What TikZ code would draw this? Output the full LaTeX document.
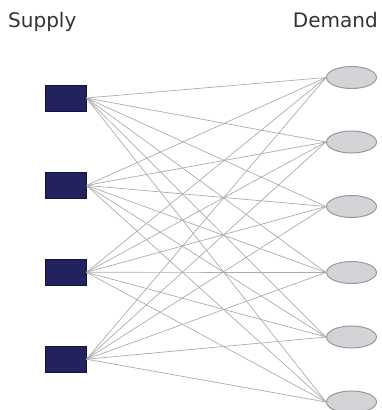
\documentclass[tikz,border=0pt]{standalone}
\usepackage{fontspec}
\setmainfont{DejaVu Sans}
\usepackage{tikz}
\usetikzlibrary{positioning,shapes.geometric}

\definecolor{navy}{HTML}{22225E}
\definecolor{demgray}{HTML}{D4D3D8}

\begin{document}
\begin{tikzpicture}[
	x=1pt, y=-1pt,
	supply/.style={rectangle, draw=navy!60!black, line width=0.9pt, fill=navy,
		minimum width=41pt, minimum height=26pt, inner sep=0pt},
	demand/.style={ellipse, draw=gray!80, line width=1pt, fill=demgray,
		minimum width=50pt, minimum height=22pt, inner sep=0pt},
	title/.style={font=\fontsize{20}{22}\selectfont, text=black!80, inner sep=0pt},
	link/.style={draw=gray!65, line width=0.7pt}
	]
	\useasboundingbox (0,0) rectangle (381,410);
	\node (lsupply) [title, anchor=base west] at (8,27) {Supply};
	\node (ldemand) [title, anchor=base east] at (378,27) {Demand};

	\node (s1) [supply] at (65.5,98) {};
	\node (s2) [supply, below=60.5pt of s1] {};
	\node (s3) [supply, below=60pt of s2] {};
	\node (s4) [supply, below=60pt of s3] {};

	\node (d1) [demand] at (351.5,77.5) {};
	\node (d2) [demand, below=41.5pt of d1] {};
	\node (d3) [demand, below=41.5pt of d2] {};
	\node (d4) [demand, below=43pt of d3] {};
	\node (d5) [demand, below=41.5pt of d4] {};
	\node (d6) [demand, below=42pt of d5] {};

	\foreach \s in {1,...,4}
		\foreach \d in {1,...,6}
			\draw [link] (s\s.east) -- (d\d.west);
\end{tikzpicture}
\end{document}
